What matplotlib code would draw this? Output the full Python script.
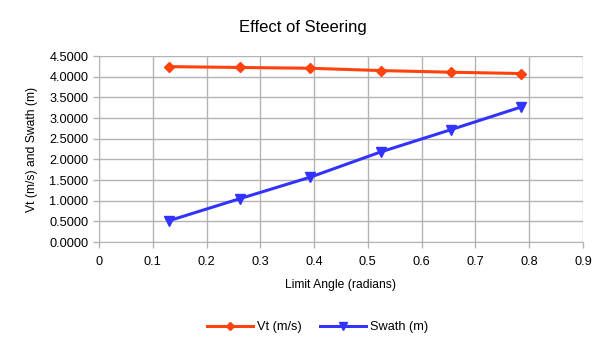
import numpy as np
import matplotlib.pyplot as plt

plt.rcParams['font.family'] = ['Liberation Sans', 'DejaVu Sans']

# limit angles (radians) and measured results
angle = [0.1309, 0.2618, 0.3927, 0.5236, 0.6545, 0.7854]
vt = [4.245, 4.225, 4.206, 4.150, 4.110, 4.078]
swath = [0.52, 1.05, 1.57, 2.18, 2.72, 3.27]

fig = plt.figure(figsize=(6.05, 3.4), dpi=100)
ax = fig.add_axes([0.1636, 0.288, 0.8, 0.547])

ax.plot(angle, vt, color='#ff420e', lw=2.2, marker='D', ms=5, label='Vt (m/s)')
ax.plot(angle, swath, color='#3333ff', lw=2.2, marker='v', ms=7, label='Swath (m)')

ax.set_xlim(0, 0.9)
ax.set_ylim(0, 4.5)
ax.set_xticks(np.arange(0, 0.91, 0.1))
ax.set_xticklabels(['0', '0.1', '0.2', '0.3', '0.4', '0.5', '0.6', '0.7', '0.8', '0.9'])
ax.set_yticks(np.arange(0, 4.51, 0.5))
ax.set_yticklabels([f'{v:.4f}' for v in np.arange(0, 4.51, 0.5)])

ax.grid(True, color='#b3b3b3', lw=1)
ax.set_axisbelow(True)
for s in ['top', 'right']:
    ax.spines[s].set_visible(False)
for s in ['left', 'bottom']:
    ax.spines[s].set_color('#b3b3b3')
ax.tick_params(colors='#b3b3b3', labelcolor='#000000', labelsize=9.2, length=4, width=1)
ax.tick_params(axis='x', pad=6)

ax.set_xlabel('Limit Angle (radians)', fontsize=8.7, labelpad=8)
ax.set_ylabel('Vt (m/s) and Swath (m)', fontsize=8.7, labelpad=8)
fig.suptitle('Effect of Steering', fontsize=12, x=0.5, y=0.92, va='center')

fig.legend(loc='center', bbox_to_anchor=(0.525, 0.037), ncol=2, frameon=False,
           fontsize=9.2, handlelength=3.6, columnspacing=1.5, handletextpad=0.3,
           markerscale=0.75)

fig.savefig('out.png', dpi=100)
